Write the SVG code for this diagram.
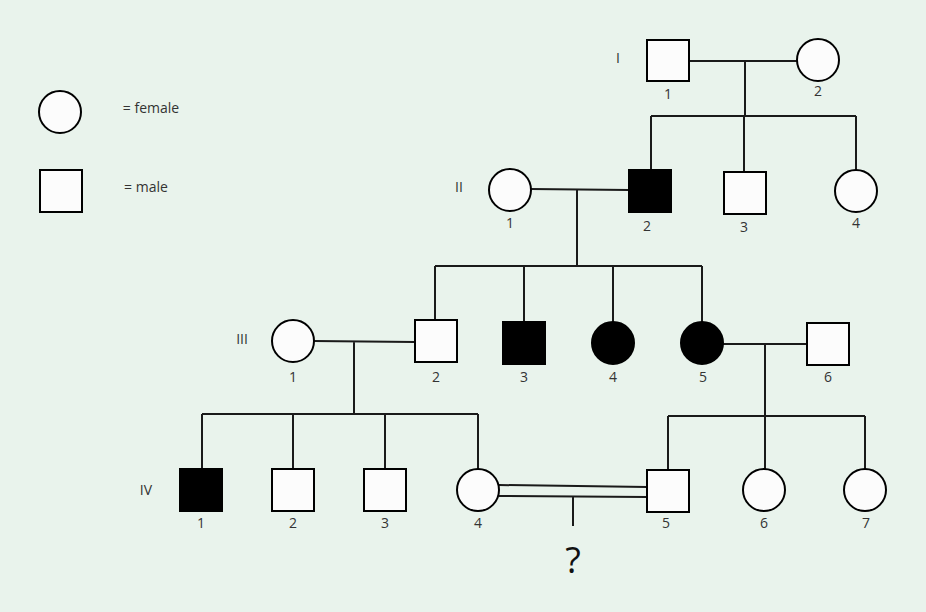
<svg xmlns="http://www.w3.org/2000/svg" width="926" height="612" viewBox="0 0 926 612">
<style>
.n{fill:#fcfcfc;stroke:#000;stroke-width:2}
.a{fill:#000;stroke:#000;stroke-width:2}
.l{stroke:#1a1a1a;stroke-width:2;fill:none}
text{font-family:"Open Sans","Liberation Sans",sans-serif;font-size:14px;fill:#333;text-anchor:middle}
</style>
<rect width="926" height="612" fill="#e9f3ec"/>
<g id="connectors" class="l">
<path d="M689 61H797M745 60V116M651 116H856M651 116V170M744 116V172M856 116V170"/>
<path d="M531 189L629 190M577 190V266M435 266H702M435 266V320M524 266V322M613 266V322M702 266V322"/>
<path d="M314 341L415 342M354 341V414M202 414H478M202 414V469M293 414V469M385 414V469M478 414V469"/>
<path d="M723 344H807M765 344V416M668 416H865M668 416V470M765 416V469M865 416V469"/>
<path d="M499 485L647 487M499 496L647 497M573 497V526"/>
</g>
<g id="legend">
<circle class="n" cx="60" cy="112" r="21"/><text x="151" y="113" text-anchor="middle">= female</text>
<rect class="n" x="40" y="170" width="42" height="42"/><text x="146" y="192">= male</text>
</g>
<g id="gen-labels"><text x="618" y="63">I</text><text x="459" y="192">II</text><text x="242" y="344">III</text><text x="146" y="495">IV</text></g>
<g id="I1"><rect class="n" x="647" y="40" width="42" height="41"/><text x="668" y="99">1</text></g>
<g id="I2"><circle class="n" cx="818" cy="60" r="21"/><text x="818" y="96">2</text></g>
<g id="II1"><circle class="n" cx="510" cy="190" r="21"/><text x="510" y="228">1</text></g>
<g id="II2"><rect class="a" x="629" y="170" width="42" height="42"/><text x="647" y="231">2</text></g>
<g id="II3"><rect class="n" x="724" y="172" width="42" height="42"/><text x="744" y="232">3</text></g>
<g id="II4"><circle class="n" cx="856" cy="191" r="21"/><text x="856" y="228">4</text></g>
<g id="III1"><circle class="n" cx="293" cy="341" r="21"/><text x="293" y="382">1</text></g>
<g id="III2"><rect class="n" x="415" y="320" width="42" height="42"/><text x="436" y="382">2</text></g>
<g id="III3"><rect class="a" x="503" y="322" width="42" height="42"/><text x="524" y="382">3</text></g>
<g id="III4"><circle class="a" cx="613" cy="343" r="21"/><text x="613" y="382">4</text></g>
<g id="III5"><circle class="a" cx="702" cy="343" r="21"/><text x="703" y="382">5</text></g>
<g id="III6"><rect class="n" x="807" y="323" width="42" height="42"/><text x="828" y="382">6</text></g>
<g id="IV1"><rect class="a" x="180" y="469" width="42" height="42"/><text x="201" y="528">1</text></g>
<g id="IV2"><rect class="n" x="272" y="469" width="42" height="42"/><text x="293" y="528">2</text></g>
<g id="IV3"><rect class="n" x="364" y="469" width="42" height="42"/><text x="385" y="528">3</text></g>
<g id="IV4"><circle class="n" cx="478" cy="490" r="21"/><text x="478" y="528">4</text></g>
<g id="IV5"><rect class="n" x="647" y="470" width="42" height="42"/><text x="666" y="528">5</text></g>
<g id="IV6"><circle class="n" cx="764" cy="490" r="21"/><text x="764" y="528">6</text></g>
<g id="IV7"><circle class="n" cx="865" cy="490" r="21"/><text x="866" y="528">7</text></g>
<g id="child"><text x="573" y="573" style="font-size:36px;fill:#111">?</text></g>
</svg>
